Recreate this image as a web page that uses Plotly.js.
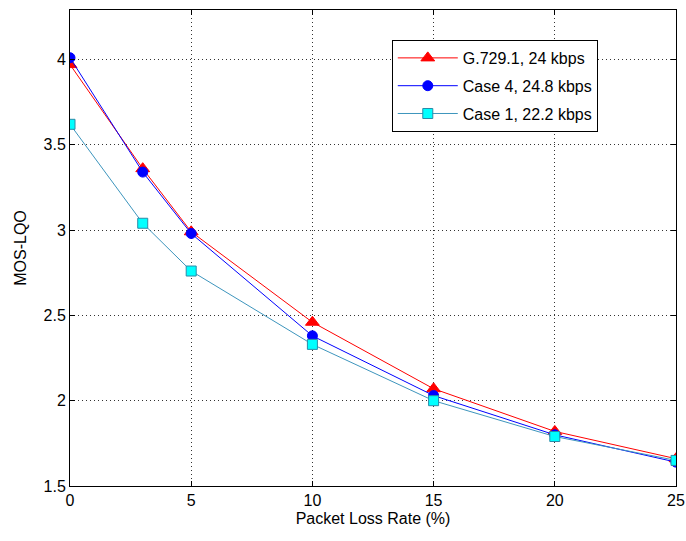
<!DOCTYPE html>
<html><head><meta charset="utf-8">
<script src="https://cdn.plot.ly/plotly-3.0.1.min.js"></script>
<style>body{margin:0;background:#fff}#c{width:686px;height:541px}</style>
</head><body><div id="c"></div>
<script>
const lossRate = [0, 3, 5, 10, 15, 20, 25];
const g7291 = [3.97, 3.36, 2.99, 2.46, 2.07, 1.82, 1.66];
const case4 = [4.01, 3.34, 2.98, 2.38, 2.03, 1.80, 1.64];
const case1 = [3.62, 3.04, 2.76, 2.33, 2.00, 1.79, 1.65];
const names = ['G.729.1, 24 kbps', 'Case 4, 24.8 kbps', 'Case 1, 22.2 kbps'];
const xTicks = [0, 5, 10, 15, 20, 25];
const yTicks = [1.5, 2, 2.5, 3, 3.5, 4];

const FONT = 'Liberation Sans, Arial';
const traces = [
  {x: lossRate, y: g7291, name: names[0], legendgroup: 'a', mode: 'lines+markers',
   line: {color: '#ff0000', width: 1},
   marker: {symbol: 'triangle-up', size: 12, color: '#ff0000', line: {color: '#ff0000', width: 1}}},
  {x: lossRate, y: case4, name: names[1], legendgroup: 'b', mode: 'lines+markers',
   line: {color: '#0000ff', width: 1},
   marker: {symbol: 'circle', size: 10, color: '#0000ff', line: {color: '#0000ff', width: 1}}},
  {x: lossRate, y: case1, name: names[2], legendgroup: 'c', mode: 'lines+markers',
   line: {color: '#3d95bd', width: 1},
   marker: {symbol: 'square', size: 10, color: '#00ffff', line: {color: '#2a8aa8', width: 1}}}
];

const axisCommon = {
  showline: true, linecolor: '#000', linewidth: 1, mirror: 'ticks',
  ticks: 'inside', ticklen: 5, tickcolor: '#000',
  showgrid: true, gridcolor: '#333', gridwidth: 1, griddash: '1px,3px',
  zeroline: false, tickfont: {family: FONT, size: 16, color: '#000'}
};

const layout = {
  width: 686, height: 541,
  margin: {l: 70, r: 10, t: 10, b: 55},
  paper_bgcolor: '#fff', plot_bgcolor: '#fff',
  showlegend: true,
  legend: {x: 0.531, y: 0.937, xanchor: 'left', yanchor: 'top',
    bgcolor: '#fff', bordercolor: '#000', borderwidth: 1,
    font: {family: FONT, size: 16, color: '#000'},
    itemwidth: 60, tracegroupgap: 4},
  xaxis: Object.assign({}, axisCommon, {range: [0, 25], tickvals: xTicks,
    title: {text: 'Packet Loss Rate (%)', font: {family: FONT, size: 16, color: '#000'}, standoff: 4}}),
  yaxis: Object.assign({}, axisCommon, {range: [1.5, 4.29], tickvals: yTicks,
    title: {text: 'MOS-LQO', font: {family: FONT, size: 16, color: '#000'}, standoff: 12}})
};

Plotly.newPlot('c', traces, layout, {displayModeBar: false});
</script></body></html>
